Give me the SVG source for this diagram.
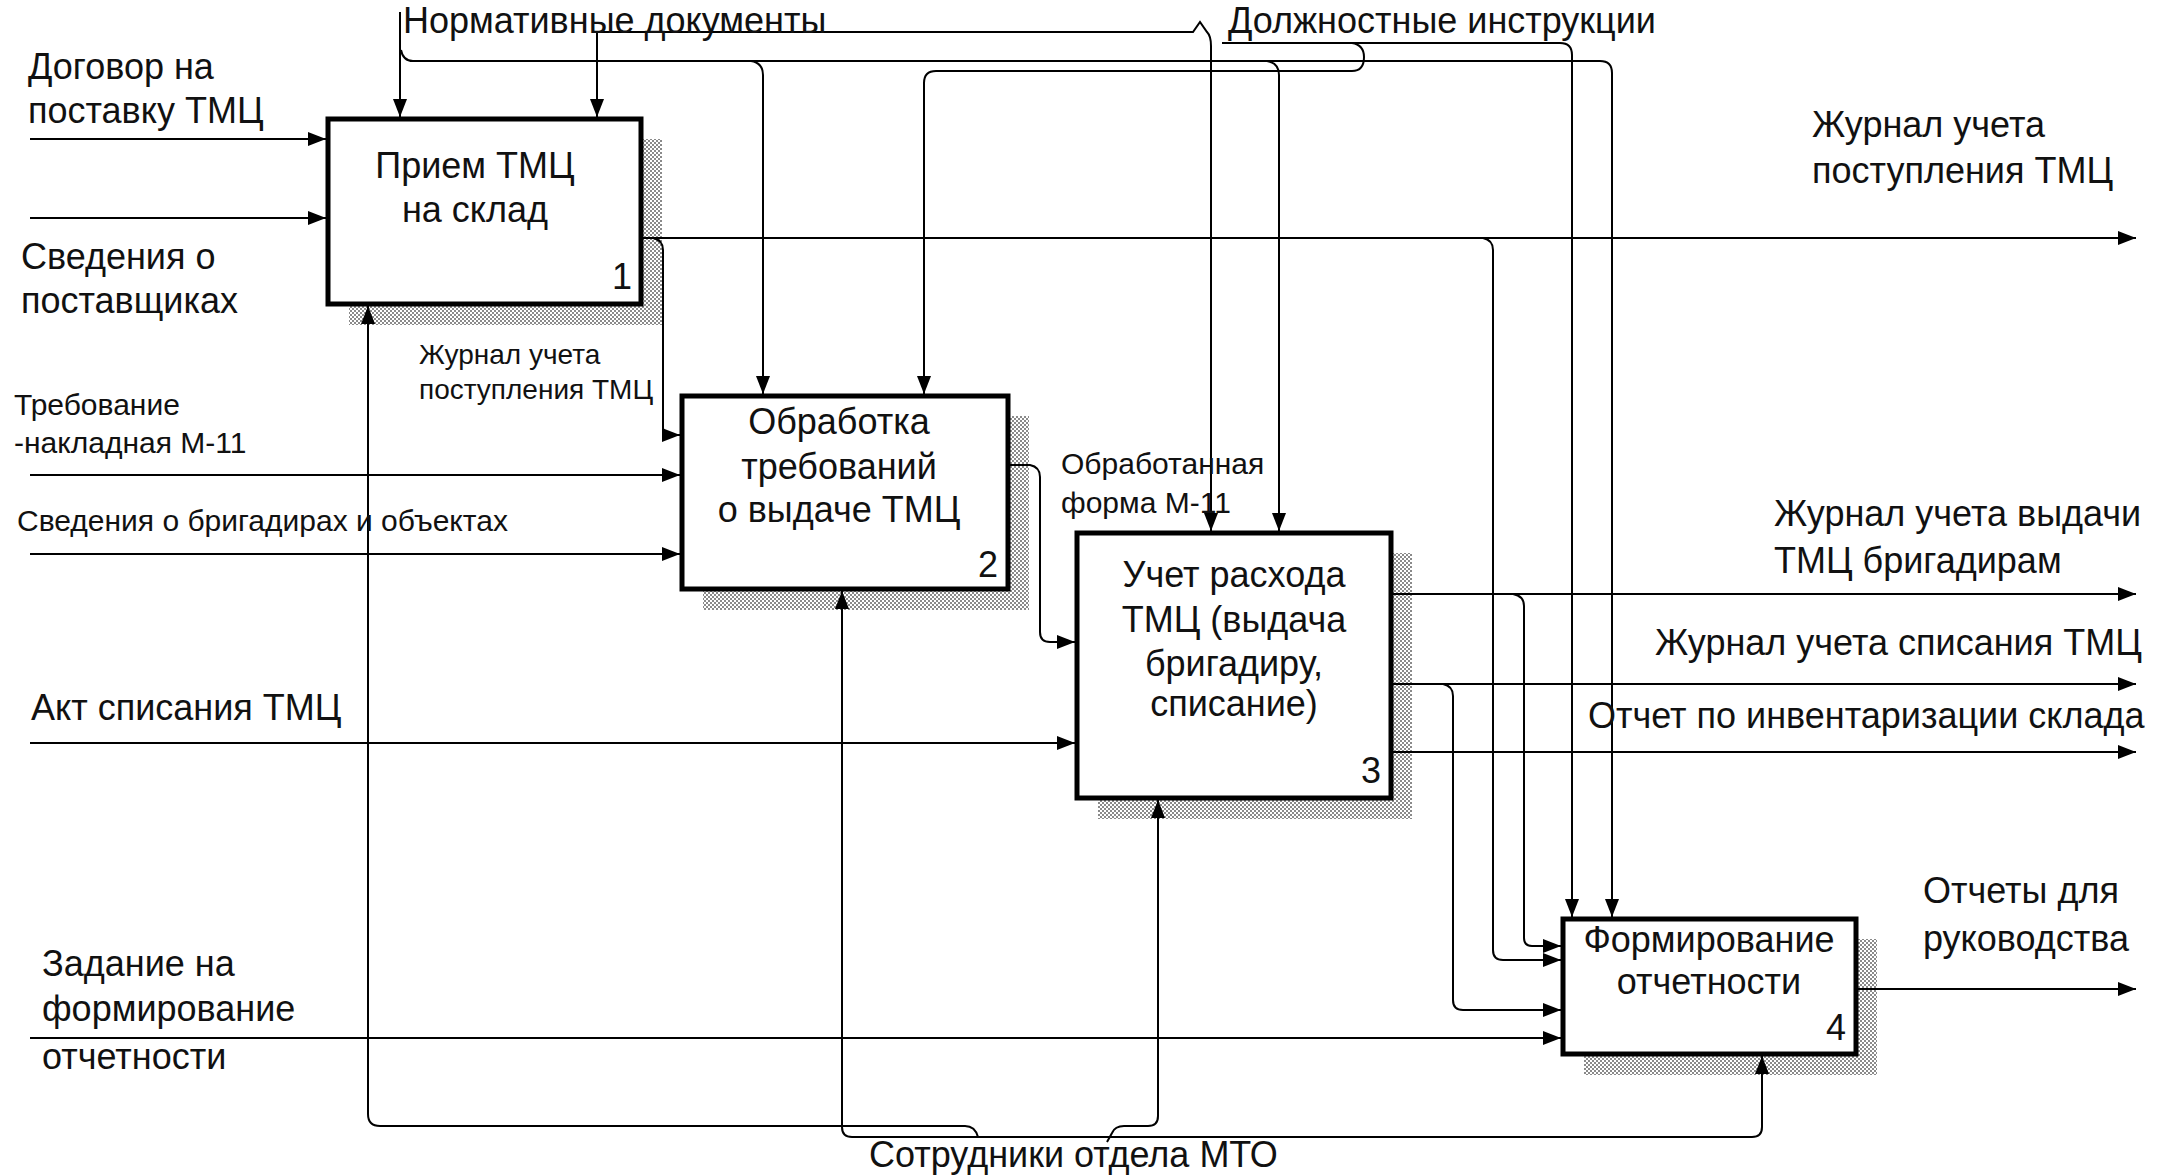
<svg xmlns="http://www.w3.org/2000/svg" width="2177" height="1176" viewBox="0 0 2177 1176">
<style>
.t{font-family:"Liberation Sans",Arial,sans-serif;font-size:36px;fill:#111}
.s{font-size:30px}
.xs{font-size:28px}
.c{text-anchor:middle}
.n{text-anchor:end}
.box{fill:#fff;stroke:#000;stroke-width:5}
.sh{fill:url(#hatch)}
.ln{fill:none;stroke:#000;stroke-width:2}
.ar{marker-end:url(#ah)}
.as{marker-start:url(#ah)}
</style>
<defs>
<pattern id="hatch" width="4" height="4" patternUnits="userSpaceOnUse">
<rect width="4" height="4" fill="#fff"/>
<rect width="2" height="2" fill="#8a8a8a"/>
<rect x="2" y="2" width="2" height="2" fill="#8a8a8a"/>
</pattern>
<marker id="ah" viewBox="0 0 18 14" refX="18" refY="7" markerWidth="18" markerHeight="14" markerUnits="userSpaceOnUse" orient="auto-start-reverse">
<path d="M0,0 L18,7 L0,14 z" fill="#000"/>
</marker>
</defs>
<rect width="2177" height="1176" fill="#fff"/>

<g id="node1">
<rect class="sh" x="641" y="139" width="21" height="186"/>
<rect class="sh" x="349" y="304" width="313" height="21"/>
<rect class="box" x="328" y="119" width="313" height="185"/>
<text class="t c" x="475" y="178">Прием ТМЦ</text>
<text class="t c" x="475" y="222">на склад</text>
<text class="t n" x="632" y="289">1</text>
</g>

<g id="node2">
<rect class="sh" x="1008" y="416" width="21" height="194"/>
<rect class="sh" x="703" y="589" width="326" height="21"/>
<rect class="box" x="682" y="396" width="326" height="193"/>
<text class="t c" x="839" y="434">Обработка</text>
<text class="t c" x="839" y="479">требований</text>
<text class="t c" x="839" y="522">о выдаче ТМЦ</text>
<text class="t n" x="998" y="577">2</text>
</g>

<g id="node3">
<rect class="sh" x="1391" y="553" width="21" height="266"/>
<rect class="sh" x="1098" y="798" width="314" height="21"/>
<rect class="box" x="1077" y="533" width="314" height="265"/>
<text class="t c" x="1234" y="587">Учет расхода</text>
<text class="t c" x="1234" y="632">ТМЦ (выдача</text>
<text class="t c" x="1234" y="676">бригадиру,</text>
<text class="t c" x="1234" y="716">списание)</text>
<text class="t n" x="1381" y="783">3</text>
</g>

<g id="node4">
<rect class="sh" x="1856" y="939" width="21" height="136"/>
<rect class="sh" x="1584" y="1054" width="293" height="21"/>
<rect class="box" x="1563" y="919" width="293" height="135"/>
<text class="t c" x="1709" y="952">Формирование</text>
<text class="t c" x="1709" y="994">отчетности</text>
<text class="t n" x="1846" y="1040">4</text>
</g>

<g id="connectors">
<!-- controls -->
<path class="ln ar" d="M400,12 V117"/>
<path class="ln ar" d="M401,50 Q403,61 413,61 H1600 Q1612,61 1612,73 V917"/>
<path class="ln ar" d="M751,61 Q763,63 763,75 V394"/>
<path class="ln ar" d="M1267,61 Q1279,63 1279,75 V531"/>
<path class="ln ar as" d="M597,117 V32 H1193 L1200,22 L1207,32 Q1211,36 1211,46 V531"/>
<path class="ln ar" d="M1222,43 H1560 Q1572,43 1572,55 V917"/>
<path class="ln ar" d="M1352,43 Q1364,45 1364,57 Q1364,71 1352,71 H936 Q924,71 924,83 V394"/>
<!-- inputs -->
<path class="ln ar" d="M30,139 H326"/>
<path class="ln ar" d="M30,218 H326"/>
<path class="ln ar" d="M30,475 H680"/>
<path class="ln ar" d="M30,554 H680"/>
<path class="ln ar" d="M30,743 H1075"/>
<path class="ln ar" d="M30,1038 H1561"/>
<!-- outputs -->
<path class="ln ar" d="M643,238 H2136"/>
<path class="ln ar" d="M653,238 Q663,240 663,250 V428 Q663,435 670,435 H680"/>
<path class="ln ar" d="M1483,238 Q1493,240 1493,250 V950 Q1493,960 1503,960 H1561"/>
<path class="ln ar" d="M1010,465 H1030 Q1040,467 1040,477 V632 Q1040,642 1050,642 H1075"/>
<path class="ln ar" d="M1393,594 H2136"/>
<path class="ln ar" d="M1513,594 Q1524,596 1524,606 V938 Q1524,946 1532,946 H1561"/>
<path class="ln ar" d="M1393,684 H2136"/>
<path class="ln ar" d="M1443,684 Q1453,686 1453,696 V1000 Q1453,1010 1463,1010 H1561"/>
<path class="ln ar" d="M1393,752 H2136"/>
<path class="ln ar" d="M1858,989 H2136"/>
<!-- mechanisms -->
<path class="ln ar" d="M978,1137 Q975,1126 965,1126 H380 Q368,1126 368,1114 V306"/>
<path class="ln ar as" d="M842,591 V1127 Q842,1137 852,1137 H1752 Q1762,1137 1762,1127 V1056"/>
<path class="ln ar" d="M1107,1142 L1112,1133 Q1115,1126 1124,1126 H1148 Q1158,1126 1158,1116 V800"/>
</g>

<g id="labels">
<text class="t" x="403" y="33">Нормативные документы</text>
<text class="t" x="1228" y="33">Должностные инструкции</text>
<text class="t" x="28" y="79">Договор на</text>
<text class="t" x="28" y="123">поставку ТМЦ</text>
<text class="t" x="21" y="269">Сведения о</text>
<text class="t" x="21" y="313">поставщиках</text>
<text class="t s" x="14" y="415">Требование</text>
<text class="t s" x="14" y="453">-накладная М-11</text>
<text class="t s" x="17" y="531">Сведения о бригадирах и объектах</text>
<text class="t" x="31" y="720">Акт списания ТМЦ</text>
<text class="t" x="42" y="976">Задание на</text>
<text class="t" x="42" y="1021">формирование</text>
<text class="t" x="42" y="1069">отчетности</text>
<text class="t xs" x="419" y="364">Журнал учета</text>
<text class="t xs" x="419" y="399">поступления ТМЦ</text>
<text class="t s" x="1061" y="474">Обработанная</text>
<text class="t s" x="1061" y="513">форма М-11</text>
<text class="t" x="1812" y="137">Журнал учета</text>
<text class="t" x="1812" y="183">поступления ТМЦ</text>
<text class="t" x="1774" y="526">Журнал учета выдачи</text>
<text class="t" x="1774" y="573">ТМЦ бригадирам</text>
<text class="t" x="1655" y="655">Журнал учета списания ТМЦ</text>
<text class="t" x="1588" y="728">Отчет по инвентаризации склада</text>
<text class="t" x="1923" y="903">Отчеты для</text>
<text class="t" x="1923" y="951">руководства</text>
<text class="t" x="869" y="1167">Сотрудники отдела МТО</text>
</g>
</svg>
